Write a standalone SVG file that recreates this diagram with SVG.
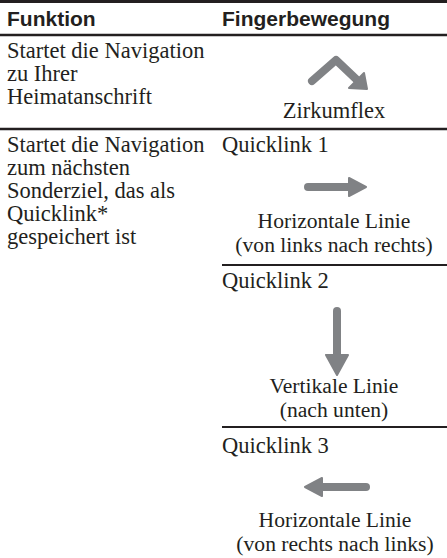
<svg xmlns="http://www.w3.org/2000/svg" width="447" height="558" viewBox="0 0 447 558">
<defs>
<style>
.h{font-family:"Liberation Sans",Arial,sans-serif;font-weight:bold;font-size:21px;fill:#231f20}
.t{font-family:"Liberation Serif","Times New Roman",serif;font-size:22.5px;fill:#231f20}
.l{font-family:"Liberation Serif","Times New Roman",serif;font-size:21.6px;fill:#231f20}
.c{text-anchor:middle}
.rule{stroke:#231f20;fill:none}
.shaft{stroke:#808285;stroke-width:8;stroke-linecap:round;stroke-linejoin:round;fill:none}
.head{fill:#808285;stroke:#808285;stroke-width:2;stroke-linejoin:round}
</style>
</defs>
<rect width="447" height="558" fill="#ffffff"/>
<g id="rules">
<line class="rule" x1="0" y1="1.5" x2="447" y2="1.5" stroke-width="3"/>
<line class="rule" x1="0" y1="35" x2="447" y2="35" stroke-width="2.5"/>
<line class="rule" x1="0" y1="129" x2="447" y2="129" stroke-width="2.5"/>
<line class="rule" x1="222" y1="265" x2="447" y2="265" stroke-width="2"/>
<line class="rule" x1="222" y1="427" x2="447" y2="427" stroke-width="2"/>
</g>
<g id="header">
<text class="h" x="7" y="26">Funktion</text>
<text class="h" x="222" y="26">Fingerbewegung</text>
</g>
<g id="row1-function">
<text class="t" x="7" y="58">Startet die Navigation<tspan x="7" dy="23">zu Ihrer</tspan><tspan x="7" dy="23">Heimatanschrift</tspan></text>
</g>
<g id="row1-gesture">
<path class="shaft" d="M312,81 L336,60 L356,79"/>
<polygon class="head" points="349,88 364,73 367,89"/>
<text class="t c" x="334" y="118">Zirkumflex</text>
</g>
<g id="row2-function">
<text class="t" x="7" y="152">Startet die Navigation<tspan x="7" dy="23">zum nächsten</tspan><tspan x="7" dy="23">Sonderziel, das als</tspan><tspan x="7" dy="23">Quicklink*</tspan><tspan x="7" dy="23">gespeichert ist</tspan></text>
</g>
<g id="quicklink1">
<text class="t" x="222" y="152">Quicklink 1</text>
<path class="shaft" d="M308,187 L350,187"/>
<polygon class="head" points="349,178 366,187 349,196"/>
<text class="l c" x="334" y="228">Horizontale Linie</text>
<text class="l c" x="334" y="252">(von links nach rechts)</text>
</g>
<g id="quicklink2">
<text class="t" x="222" y="288">Quicklink 2</text>
<path class="shaft" d="M337,311 L337,356"/>
<polygon class="head" points="326,355 348,355 337,375"/>
<text class="l c" x="334" y="393">Vertikale Linie</text>
<text class="l c" x="334" y="417">(nach unten)</text>
</g>
<g id="quicklink3">
<text class="t" x="222" y="453">Quicklink 3</text>
<path class="shaft" d="M366,487 L323,487"/>
<polygon class="head" points="322,478 305,487 322,496"/>
<text class="l c" x="335" y="527">Horizontale Linie</text>
<text class="l c" x="335" y="551">(von rechts nach links)</text>
</g>
</svg>
